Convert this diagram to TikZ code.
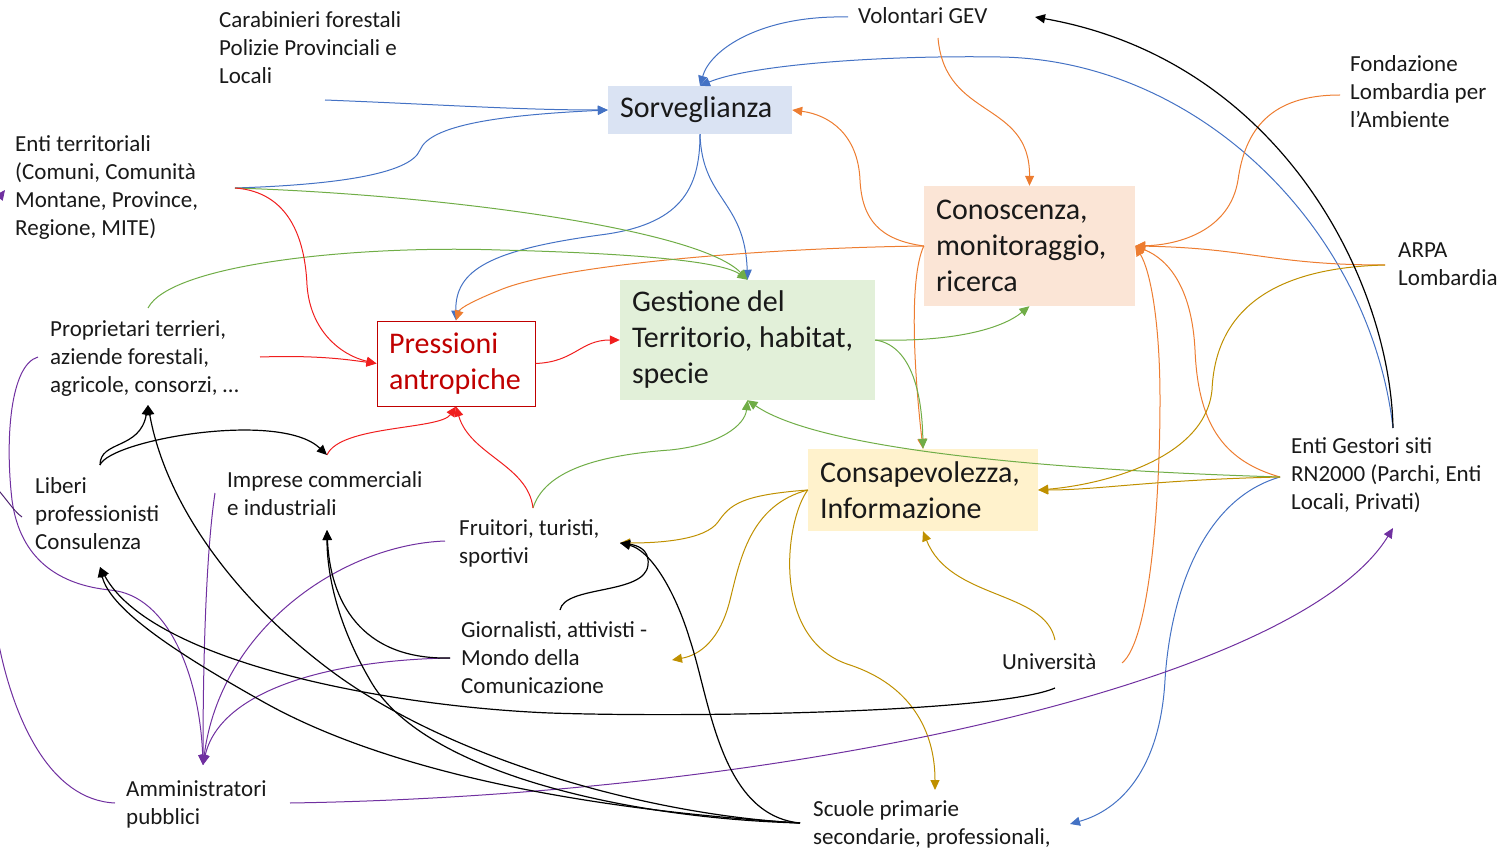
\documentclass[tikz,border=0pt]{standalone}
\usepackage{fontspec}
\setmainfont{Carlito}
\usetikzlibrary{arrows.meta}
\definecolor{cblue}{HTML}{4472C4}
\definecolor{corange}{HTML}{ED7D31}
\definecolor{cgreen}{HTML}{70AD47}
\definecolor{cred}{HTML}{F01E1E}
\definecolor{cgold}{HTML}{BF9000}
\definecolor{cpurple}{HTML}{7030A0}
\definecolor{cpress}{HTML}{C00000}
\definecolor{csorv}{HTML}{DAE3F3}
\definecolor{cgest}{HTML}{E2F0D9}
\definecolor{ccono}{HTML}{FBE5D6}
\definecolor{ccons}{HTML}{FFF2CC}
\begin{document}
\begin{tikzpicture}[x=1pt, y=-1pt,
  lbl/.style={anchor=base west, align=left, inner sep=0pt, text=black!90, font=\fontsize{23}{28}\selectfont},
  box/.style={inner xsep=12pt, inner ysep=0pt, align=flush left, text=black!90, font=\fontsize{30}{36}\selectfont},
  lnk/.style={line width=1pt, -{Triangle[length=10pt,width=9pt]}}]
  \useasboundingbox (0,0) rectangle (1509,850);

  % boxes
  \node[box, fill=csorv, minimum width=184pt, minimum height=48pt, text width=160pt] (sorv) at (700,110) {Sorveglianza};
  \node[box, draw=cpress, line width=1pt, text=cpress, minimum width=158pt, minimum height=85pt, text width=134pt] (press) at (456,363.5) {Pressioni\\antropiche};
  \node[box, fill=cgest, minimum width=255pt, minimum height=120pt, text width=231pt] (gest) at (747.5,340) {Gestione del\\Territorio, habitat,\\specie};
  \node[box, fill=ccono, minimum width=211pt, minimum height=120pt, text width=187pt] (cono) at (1029.5,246) {Conoscenza,\\monitoraggio,\\ricerca};
  \node[box, fill=ccons, minimum width=230pt, minimum height=82pt, text width=206pt] (cons) at (923,490) {Consapevolezza,\\Informazione};

  % actors (placed at the baseline of their last line)
  \node[lbl] (carab) at (219,84) {Carabinieri forestali\\Polizie Provinciali e\\Locali};
  \node[lbl] (gev) at (858,24) {Volontari GEV};
  \node[lbl] (fond) at (1350,128) {Fondazione\\Lombardia per\\l’Ambiente};
  \node[lbl] (arpa) at (1398,285) {ARPA\\Lombardia};
  \node[lbl] (enti) at (15,236) {Enti territoriali\\(Comuni, Comunità\\Montane, Province,\\Regione, MITE)};
  \node[lbl] (propr) at (50,392) {Proprietari terrieri,\\aziende forestali,\\agricole, consorzi, …};
  \node[lbl] (liberi) at (35,549) {Liberi\\professionisti\\Consulenza};
  \node[lbl] (impr) at (227,515) {Imprese commerciali\\e industriali};
  \node[lbl] (fruit) at (459,563) {Fruitori, turisti,\\sportivi};
  \node[lbl] (giorn) at (461,693) {Giornalisti, attivisti -\\Mondo della\\Comunicazione};
  \node[lbl] (univ) at (1002,669) {Università};
  \node[lbl] (gestori) at (1291,509) {Enti Gestori siti\\RN2000 (Parchi, Enti\\Locali, Privati)};
  \node[lbl] (ammin) at (126,824) {Amministratori\\pubblici};
  \node[lbl] (scuole) at (813,844) {Scuole primarie\\secondarie, professionali,};

  % blue
  \draw[lnk, cblue] ([shift={(106,16)}]carab.base west) .. controls (450,105) and (520,110) .. (sorv.west);
  \draw[lnk, cblue] ([shift={(220,-48)}]enti.base west) .. controls (330,185) and (410,175) .. (420,150) .. controls (430,125) and (500,115) .. (sorv.west);
  \draw[lnk, cblue] ([shift={(-10,-7)}]gev.base west) .. controls (760,15) and (710,50) .. (sorv.north);
  \draw[lnk, cblue] ([shift={(102,-81)}]gestori.base west) .. controls (1370,230) and (1200,60) .. (1000,57) .. controls (880,55) and (750,65) .. (sorv.north);
  \draw[lnk, cblue] (sorv.south) .. controls (700,190) and (680,225) .. (600,235) .. controls (490,250) and (455,270) .. (press.north);
  \draw[lnk, cblue] (sorv.south) .. controls (702,200) and (745,200) .. (gest.north);
  \draw[lnk, cblue] ([shift={(-11,-32)}]gestori.base west) .. controls (1200,500) and (1170,600) .. (1165,680) .. controls (1160,770) and (1120,810) .. ([shift={(257,-20)}]scuole.base west);

  % orange
  \draw[lnk, corange] ([shift={(80,14)}]gev.base west) .. controls (945,120) and (1030,100) .. (cono.north);
  \draw[lnk, corange] (cono.west) .. controls (880,240) and (862,220) .. (860,180) .. controls (858,135) and (830,115) .. (sorv.east);
  \draw[lnk, corange] (cono.west) .. controls (760,248) and (560,265) .. (500,290) .. controls (475,300) and (460,308) .. (press.north);
  \draw[lnk, corange] (cono.west) .. controls (908,280) and (915,380) .. (cons.north);
  \draw[lnk, corange] ([shift={(-10,-33)}]fond.base west) .. controls (1270,95) and (1245,130) .. (1238,180) .. controls (1230,230) and (1180,245) .. (cono.east);
  \draw[lnk, corange] ([shift={(-13,-20)}]arpa.base west) .. controls (1270,265) and (1250,248) .. (cono.east);
  \draw[lnk, corange] ([shift={(-11,-32)}]gestori.base west) .. controls (1220,460) and (1198,420) .. (1195,350) .. controls (1192,290) and (1170,260) .. (cono.east);
  \draw[lnk, corange] ([shift={(120,-6)}]univ.base west) .. controls (1150,640) and (1160,500) .. (1160,400) .. controls (1160,320) and (1150,270) .. (cono.east);

  % green
  \draw[lnk, cgreen] ([shift={(220,-48)}]enti.base west) .. controls (450,195) and (700,230) .. (gest.north);
  \draw[lnk, cgreen] ([shift={(98,-84)}]propr.base west) .. controls (170,265) and (350,245) .. (500,250) .. controls (620,253) and (720,260) .. (gest.north);
  \draw[lnk, cgreen] (gest.east) .. controls (950,342) and (1000,330) .. (cono.south);
  \draw[lnk, cgreen] (gest.east) .. controls (910,345) and (922,390) .. (cons.north);
  \draw[lnk, cgreen] ([shift={(74,-55)}]fruit.base west) .. controls (545,470) and (600,455) .. (670,450) .. controls (720,445) and (745,425) .. (gest.south);
  \draw[lnk, cgreen] ([shift={(-11,-32)}]gestori.base west) .. controls (1050,470) and (820,450) .. (gest.south);

  % red
  \draw[lnk, cred] ([shift={(220,-48)}]enti.base west) .. controls (290,192) and (305,240) .. (307,285) .. controls (310,330) and (340,355) .. (press.west);
  \draw[lnk, cred] ([shift={(210,-35)}]propr.base west) .. controls (320,355) and (350,360) .. (press.west);
  \draw[lnk, cred] (press.east) .. controls (575,362) and (580,340) .. (gest.west);
  \draw[lnk, cred] ([shift={(100,-60)}]impr.base west) .. controls (340,425) and (440,430) .. (press.south);
  \draw[lnk, cred] ([shift={(74,-55)}]fruit.base west) .. controls (528,465) and (470,455) .. (press.south);

  % gold
  \draw[lnk, cgold] ([shift={(-13,-20)}]arpa.base west) .. controls (1260,268) and (1215,320) .. (1212,390) .. controls (1205,460) and (1100,485) .. (cons.east);
  \draw[lnk, cgold] ([shift={(-11,-32)}]gestori.base west) .. controls (1150,480) and (1100,490) .. (cons.east);
  \draw[lnk, cgold] (cons.west) .. controls (740,495) and (730,505) .. (718,522) .. controls (705,540) and (660,543) .. ([shift={(161,-20)}]fruit.base west);
  \draw[lnk, cgold] (cons.west) .. controls (750,505) and (740,560) .. (730,600) .. controls (720,640) and (700,655) .. ([shift={(211,-33)}]giorn.base west);
  \draw[lnk, cgold] (cons.west) .. controls (785,520) and (770,640) .. (850,665) .. controls (910,685) and (935,730) .. ([shift={(122,-54)}]scuole.base west);
  \draw[lnk, cgold] ([shift={(53,-29)}]univ.base west) .. controls (1045,590) and (950,600) .. (cons.south);

  % purple
  \draw[lnk, cpurple] ([shift={(-12,-35)}]propr.base west) .. controls (10,365) and (5,440) .. (12,500) .. controls (20,560) and (60,585) .. (110,590) .. controls (170,595) and (200,680) .. ([shift={(77,-59)}]ammin.base west);
  \draw[lnk, cpurple] ([shift={(-12,-22)}]impr.base west) .. controls (205,560) and (203,680) .. ([shift={(77,-59)}]ammin.base west);
  \draw[lnk, cpurple] ([shift={(-14,-22)}]fruit.base west) .. controls (340,545) and (220,630) .. ([shift={(77,-59)}]ammin.base west);
  \draw[lnk, cpurple] ([shift={(-11,-35)}]giorn.base west) .. controls (330,660) and (220,690) .. ([shift={(77,-59)}]ammin.base west);
  \draw[lnk, cpurple] ([shift={(164,-21)}]ammin.base west) .. controls (800,795) and (1300,680) .. ([shift={(102,19)}]gestori.base west);
  \draw[lnk, cpurple] ([shift={(-11,-21)}]ammin.base west) .. controls (50,800) and (15,720) .. (0,650) .. controls (-30,520) and (-40,250) .. ([shift={(-10,-46)}]enti.base west);
  \draw[line width=1pt, cpurple!70!black] ([shift={(-13,-32)}]liberi.base west) .. controls (12,510) and (5,495) .. (-20,470);

  % black
  \draw[lnk, line width=1.2pt] ([shift={(102,-81)}]gestori.base west) .. controls (1390,280) and (1280,60) .. ([shift={(177,-7)}]gev.base west);
  \draw[lnk, line width=1.2pt] ([shift={(65,-84)}]liberi.base west) .. controls (100,440) and (140,450) .. ([shift={(98,13)}]propr.base west);
  \draw[lnk, line width=1.2pt] ([shift={(65,-84)}]liberi.base west) .. controls (110,440) and (280,410) .. ([shift={(100,-60)}]impr.base west);
  \draw[lnk, line width=1.2pt] ([shift={(-13,-21)}]scuole.base west) .. controls (650,815) and (450,760) .. (330,670) .. controls (230,595) and (165,500) .. ([shift={(98,13)}]propr.base west);
  \draw[lnk, line width=1.2pt] ([shift={(-13,-21)}]scuole.base west) .. controls (620,812) and (400,780) .. (260,700) .. controls (180,655) and (110,610) .. ([shift={(65,18)}]liberi.base west);
  \draw[lnk, line width=1.2pt] ([shift={(53,19)}]univ.base west) .. controls (1000,712) and (700,718) .. (550,713) .. controls (380,706) and (150,660) .. ([shift={(65,18)}]liberi.base west);
  \draw[lnk, line width=1.2pt] ([shift={(-13,-21)}]scuole.base west) .. controls (620,818) and (420,770) .. (370,680) .. controls (335,620) and (327,570) .. ([shift={(100,15)}]impr.base west);
  \draw[lnk, line width=1.2pt] ([shift={(-11,-35)}]giorn.base west) .. controls (360,660) and (330,600) .. ([shift={(100,15)}]impr.base west);
  \draw[lnk, line width=1.2pt] ([shift={(-13,-21)}]scuole.base west) .. controls (720,815) and (710,700) .. (690,640) .. controls (675,590) and (650,550) .. ([shift={(161,-20)}]fruit.base west);
  \draw[lnk, line width=1.2pt] ([shift={(99,-83)}]giorn.base west) .. controls (565,585) and (645,595) .. (648,565) .. controls (650,548) and (635,545) .. ([shift={(161,-20)}]fruit.base west);
\end{tikzpicture}
\end{document}
